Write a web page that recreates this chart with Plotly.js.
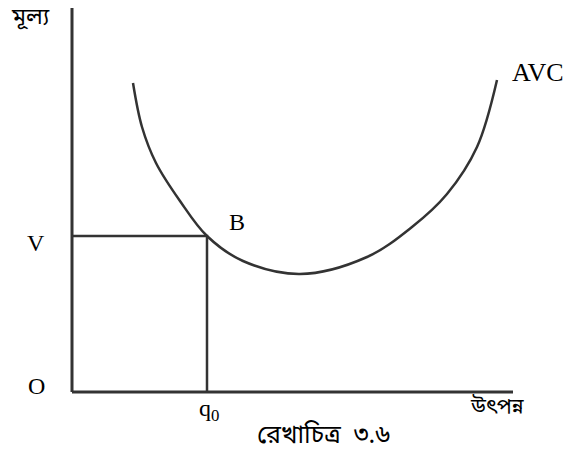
<!DOCTYPE html>
<html><head><meta charset="utf-8">
<script src="https://cdn.plot.ly/plotly-3.0.1.min.js"></script>
<style>body{margin:0;background:#fff}#c{width:571px;height:455px}</style>
</head><body><div id="c"></div>
<script>
// AVC curve (output, cost) in chart units (origin O at 0,0)
const avcX = [61, 70, 84, 108, 135, 171, 228, 295, 340, 375, 405, 425];
const avcY = [309, 265, 229, 191, 156, 131, 118, 135, 165, 198, 245, 312];
// point B
const bX = 135, bY = 156;
// axis extents
const xMax = 441, yMax = 384;

const lineCol = '#333333';
const traces = [
  {x:[0,0], y:[0,yMax], mode:'lines', line:{color:lineCol,width:3}, hoverinfo:'skip'},
  {x:[0,xMax], y:[0,0], mode:'lines', line:{color:lineCol,width:3}, hoverinfo:'skip'},
  {x:[0,bX,bX], y:[bY,bY,0], mode:'lines', line:{color:lineCol,width:2.5}, hoverinfo:'skip'},
  {x:avcX, y:avcY, mode:'lines', line:{color:lineCol,width:2.5,shape:'spline',smoothing:1}, hoverinfo:'skip'}
];
const serif = 'Liberation Serif, Times New Roman, serif';
const beng = 'Noto Sans Bengali, Noto Serif Bengali, Lohit Bengali, sans-serif';
const ann = (x,y,text,size,font,xa,ya)=>({x,y,text,showarrow:false,xanchor:xa||'center',yanchor:ya||'middle',font:{family:font,size,color:'#000'}});
const layout = {
  width:571, height:455, margin:{l:0,r:0,t:0,b:0},
  paper_bgcolor:'#fff', plot_bgcolor:'#fff', showlegend:false,
  xaxis:{range:[-72,499], visible:false, fixedrange:true},
  yaxis:{range:[-63,392], visible:false, fixedrange:true},
  annotations:[
    ann(-42,374,'মূল্য',23,beng),
    ann(-36,149,'V',24,serif),
    ann(-36,6,'O',24,serif),
    ann(165,170,'B',24,serif),
    ann(466,320,'AVC',26,serif),
    ann(137,-18,'q<sub>0</sub>',24,serif),
    ann(425,-16,'উৎপন্ন',21,beng),
    ann(251,-44,'রেখাচিত্র&nbsp; ৩.৬',25,beng)
  ]
};
Plotly.newPlot('c', traces, layout, {staticPlot:true});
</script></body></html>
